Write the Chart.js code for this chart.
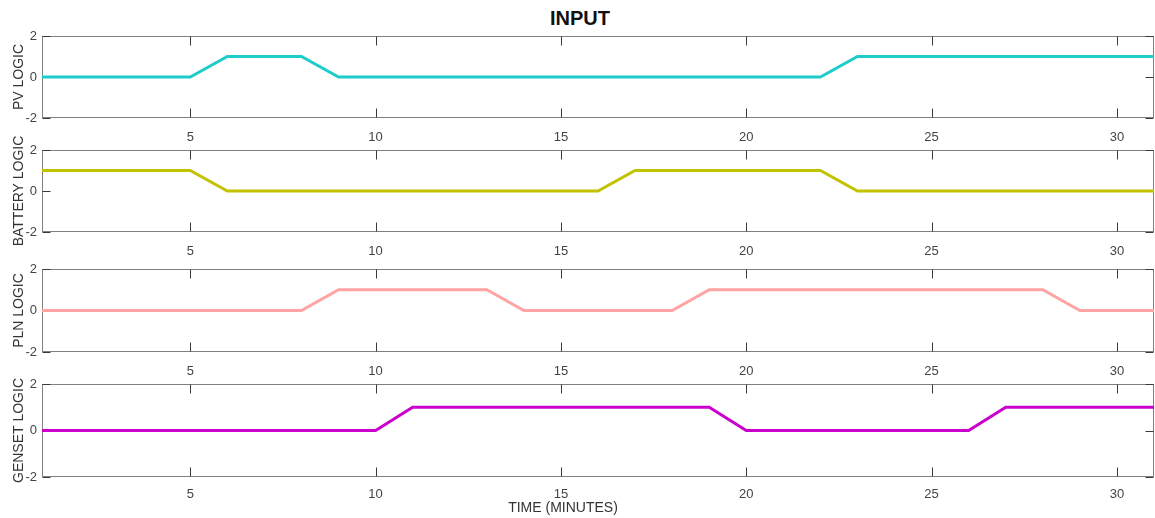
<!DOCTYPE html>
<html>
<head>
<meta charset="utf-8">
<title>INPUT</title>
<script src="https://cdn.jsdelivr.net/npm/chart.js@4.4.1/dist/chart.umd.min.js"></script>
<style>
  body { margin: 0; background: #fff; overflow: hidden; }
  #wrap { position: relative; width: 1155px; height: 518px; overflow: hidden; font-family: "Liberation Sans", Arial, sans-serif; }
  .plot { position: absolute; left: 0; }
  #title { position: absolute; top: 7px; left: 0; width: 1160px; text-align: center; font-weight: bold; font-size: 20px; color: #111; }
  #xlabel { position: absolute; top: 499px; left: 0; width: 1126px; text-align: center; font-size: 14px; color: #333; }
</style>
</head>
<body>
<div id="wrap">
  <div id="title">INPUT</div>
  <canvas id="pv" class="plot"></canvas>
  <canvas id="battery" class="plot"></canvas>
  <canvas id="pln" class="plot"></canvas>
  <canvas id="genset" class="plot"></canvas>
  <div id="xlabel">TIME (MINUTES)</div>
</div>
<script>
// DATA (minutes 1..31)
var minutes = [1, 2, 3, 4, 5, 6, 7, 8, 9, 10, 11, 12, 13, 14, 15, 16, 17, 18, 19, 20, 21, 22, 23, 24, 25, 26, 27, 28, 29, 30, 31];
var pvLogic      = [0, 0, 0, 0, 0, 1, 1, 1, 0, 0, 0, 0, 0, 0, 0, 0, 0, 0, 0, 0, 0, 0, 1, 1, 1, 1, 1, 1, 1, 1, 1];
var batteryLogic = [1, 1, 1, 1, 1, 0, 0, 0, 0, 0, 0, 0, 0, 0, 0, 0, 1, 1, 1, 1, 1, 1, 0, 0, 0, 0, 0, 0, 0, 0, 0];
var plnLogic     = [0, 0, 0, 0, 0, 0, 0, 0, 1, 1, 1, 1, 1, 0, 0, 0, 0, 0, 1, 1, 1, 1, 1, 1, 1, 1, 1, 1, 0, 0, 0];
var gensetLogic  = [0, 0, 0, 0, 0, 0, 0, 0, 0, 0, 1, 1, 1, 1, 1, 1, 1, 1, 1, 0, 0, 0, 0, 0, 0, 0, 1, 1, 1, 1, 1];

var xTicks = [5, 10, 15, 20, 25, 30];
var yTicks = [-2, 0, 2];

Chart.defaults.font.family = "'Liberation Sans', Arial, sans-serif";
Chart.defaults.font.size = 13;
Chart.defaults.color = "#444";

// box + inward ticks, matlab style
var frameLines = {
  id: "frameLines",
  beforeDatasetsDraw: function (chart) {
    var ctx = chart.ctx;
    var a = chart.chartArea;
    var xs = chart.scales.x;
    var ys = chart.scales.y;
    var l = Math.round(a.left) + 0.5, r = Math.round(a.right) - 0.5;
    var t = Math.round(a.top) + 0.5, b = Math.round(a.bottom) - 0.5;
    ctx.save();
    ctx.lineWidth = 1;
    ctx.strokeStyle = "#808080";
    ctx.strokeRect(l, t, r - l, b - t);
    ctx.strokeStyle = "#3a3a3a";
    ctx.beginPath();
    xs.ticks.forEach(function (tk) {
      var px = Math.round(xs.getPixelForValue(tk.value)) + 0.5;
      ctx.moveTo(px, b); ctx.lineTo(px, b - 9);
      ctx.moveTo(px, t); ctx.lineTo(px, t + 9);
    });
    ys.ticks.forEach(function (tk) {
      var py = Math.round(ys.getPixelForValue(tk.value)) + 0.5;
      ctx.moveTo(l, py); ctx.lineTo(l + 8, py);
      ctx.moveTo(r, py); ctx.lineTo(r - 8, py);
    });
    ctx.stroke();
    ctx.restore();
  }
};

function makePlot(id, label, values, color, top, bottom, axisH) {
  var canvas = document.getElementById(id);
  var padTop = 20;
  canvas.width = 1160;
  canvas.height = bottom - top + padTop + axisH;
  canvas.style.top = (top - padTop) + "px";

  var points = minutes.map(function (m, i) { return { x: m, y: values[i] }; });

  return new Chart(canvas, {
    type: "line",
    data: {
      datasets: [{
        label: label,
        data: points,
        borderColor: color,
        borderWidth: 3,
        pointRadius: 0,
        tension: 0,
        fill: false
      }]
    },
    options: {
      responsive: false,
      animation: false,
      layout: { padding: { top: padTop, right: 6, left: 0, bottom: 0 } },
      plugins: { legend: { display: false }, tooltip: { enabled: false } },
      scales: {
        x: {
          type: "linear",
          min: 1,
          max: 31,
          afterBuildTicks: function (s) { s.ticks = xTicks.map(function (v) { return { value: v }; }); },
          afterFit: function (s) { s.height = axisH; },
          grid: { display: false, drawTicks: false, tickLength: 0 },
          border: { display: false },
          ticks: { padding: id === "genset" ? 10 : 12, maxRotation: 0, callback: function (v) { return String(v); } }
        },
        y: {
          min: -2,
          max: 2,
          afterBuildTicks: function (s) { s.ticks = yTicks.map(function (v) { return { value: v }; }); },
          afterFit: function (s) { s.width = 42; },
          grid: { display: false, drawTicks: false, tickLength: 0 },
          border: { display: false },
          ticks: { padding: 5, callback: function (v) { return String(v); } },
          title: {
            display: true,
            text: label,
            color: "#333",
            font: { size: 14 },
            padding: { top: 11, bottom: 0 }
          }
        }
      }
    },
    plugins: [frameLines]
  });
}

makePlot("pv", "PV LOGIC", pvLogic, "#1fcccc", 36, 118, 30);
makePlot("battery", "BATTERY LOGIC", batteryLogic, "#c2c200", 150, 232, 30);
makePlot("pln", "PLN LOGIC", plnLogic, "#ffa3a3", 269, 352, 30);
makePlot("genset", "GENSET LOGIC", gensetLogic, "#cc00cc", 384, 477, 30);
</script>
</body>
</html>
